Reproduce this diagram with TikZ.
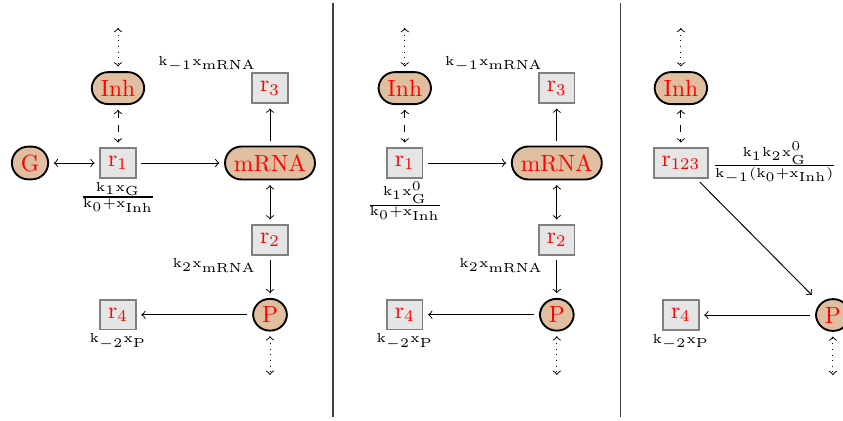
\documentclass[tikz,border=0pt]{standalone}
\usetikzlibrary{positioning, arrows}

\tikzset{
  species/.style={rectangle, rounded corners=7pt, draw, thick, fill=brown!50, text=red,
    inner xsep=3.8pt},
  reaction/.style={rectangle, draw=gray, thick, fill=gray!20, text=red},
  rate/.style={font=\tiny, inner sep=1pt, transform shape, scale=1.12},
  link/.style={shorten >=2pt, shorten <=2pt},
}

\begin{document}
\begin{tikzpicture}[node distance=1.12cm, on grid]
        \useasboundingbox (0,0) rectangle (12.61,-6.29);

        % full model
        \node[reaction] (r_1) at (1.765,-2.438) {r$_1$};
        \node[species] (G) [left=1.316cm of r_1] {G};
        \node[species] (Inh) [above=of r_1] {Inh};
        \node[species] (mRNA) [right=2.274cm of r_1] {mRNA};
        \node[reaction] (r_3) [above=of mRNA] {r$_3$};
        \node[reaction] (r_2) [below=1.15cm of mRNA] {r$_2$};
        \node[species] (P) [below=of r_2] {P};
        \node[reaction] (r_4) [left=2.274cm of P] {r$_4$};
        \coordinate[above=0.97cm of Inh] (Inh_in);
        \coordinate[below=0.97cm of P] (P_out);
        \node[rate, anchor=south east, xshift=3pt, yshift=-1pt] at (r_3.north west) {$\mathrm{k_{-1}x_{mRNA}}$};
        \node[rate, anchor=north east, xshift=3pt] at (r_2.south west) {$\mathrm{k_2x_{mRNA}}$};
        \node[rate, anchor=north] at (r_4.south) {$\mathrm{k_{-2}x_P}$};
        \node[rate, anchor=north] at (r_1.south) {$\mathrm{\frac{k_1x_G}{k_0+x_{Inh}}}$};
        \path[->, link]
                (G) edge [<->] (r_1)
                (r_1) edge (mRNA)
                (mRNA) edge (r_3)
                    edge [<->] (r_2)
                (r_2) edge (P)
                (P) edge (r_4);
        \path[<->, link]
                (Inh) edge [dashed] (r_1)
                (Inh_in) edge [dotted] (Inh)
                (P) edge [dotted] (P_out);

        \draw[semithick, black!75] (4.98,-0.045) -- (4.98,-6.24);

        % G held constant
        \node[reaction] (r_1b) at (6.055,-2.438) {r$_1$};
        \node[species] (Inhb) [above=of r_1b] {Inh};
        \node[species] (mRNAb) [right=2.274cm of r_1b] {mRNA};
        \node[reaction] (r_3b) [above=of mRNAb] {r$_3$};
        \node[reaction] (r_2b) [below=1.15cm of mRNAb] {r$_2$};
        \node[species] (Pb) [below=of r_2b] {P};
        \node[reaction] (r_4b) [left=2.274cm of Pb] {r$_4$};
        \coordinate[above=0.97cm of Inhb] (Inhb_in);
        \coordinate[below=0.97cm of Pb] (Pb_out);
        \node[rate, anchor=south east, xshift=3pt, yshift=-1pt] at (r_3b.north west) {$\mathrm{k_{-1}x_{mRNA}}$};
        \node[rate, anchor=north east, xshift=3pt] at (r_2b.south west) {$\mathrm{k_2x_{mRNA}}$};
        \node[rate, anchor=north] at (r_4b.south) {$\mathrm{k_{-2}x_P}$};
        \node[rate, anchor=north] at (r_1b.south) {$\mathrm{\frac{k_1x_G^0}{k_0+x_{Inh}}}$};
        \path[->, link]
                (r_1b) edge (mRNAb)
                (mRNAb) edge (r_3b)
                    edge [<->] (r_2b)
                (r_2b) edge (Pb)
                (Pb) edge (r_4b);
        \path[<->, link]
                (Inhb) edge [dashed] (r_1b)
                (Inhb_in) edge [dotted] (Inhb)
                (Pb) edge [dotted] (Pb_out);

        \draw[semithick, black!75] (9.28,-0.045) -- (9.28,-6.24);

        % mRNA eliminated
        \node[reaction] (r_123) at (10.185,-2.438) {r$_{123}$};
        \node[species] (Inhc) [above=of r_123] {Inh};
        \node[species] (Pc) at (12.459,-4.712) {P};
        \node[reaction] (r_4c) [left=2.274cm of Pc] {r$_4$};
        \coordinate[above=0.97cm of Inhc] (Inhc_in);
        \coordinate[below=0.97cm of Pc] (Pc_out);
        \node[rate, anchor=west] at (r_123.east) {$\mathrm{\frac{k_1k_2x_G^0}{k_{-1}(k_0+x_{Inh})}}$};
        \node[rate, anchor=north] at (r_4c.south) {$\mathrm{k_{-2}x_P}$};
        \path[->, link]
                (r_123) edge (Pc.north west)
                (Pc) edge (r_4c);
        \path[<->, link]
                (Inhc) edge [dashed] (r_123)
                (Inhc_in) edge [dotted] (Inhc)
                (Pc) edge [dotted] (Pc_out);
\end{tikzpicture}
\end{document}
